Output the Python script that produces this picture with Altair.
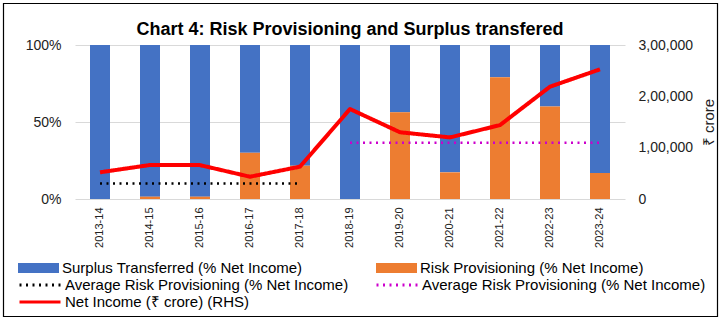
import altair as alt
import pandas as pd

years = ["2013-14", "2014-15", "2015-16", "2016-17", "2017-18", "2018-19",
         "2019-20", "2020-21", "2021-22", "2022-23", "2023-24"]
surplus_pct = [100, 98.5, 98.5, 70.0, 78.4, 100, 43.7, 82.7, 20.9, 40.0, 83.1]
risk_pct = [0, 1.5, 1.5, 30.0, 21.6, 0, 56.3, 17.3, 79.1, 60.0, 16.9]
net_income = [52000, 66200, 66000, 43400, 63000, 175300, 130000, 120000, 144000, 218800, 252600]
avg_early_years = years[:5]
avg_early = [10.0] * 5
avg_late_years = years[5:]
avg_late = [36.5] * 6

S_SUR = "Surplus Transferred (% Net Income)"
S_RISK = "Risk Provisioning (% Net Income)"
K_AVG1 = "Average Risk Provisioning (% Net Income)"
K_AVG2 = "Average Risk Provisioning (% Net Income) "
K_NET = "Net Income (₹ crore) (RHS)"
# legend is filled column by column: [avg1, net] in column 1, [avg2] in column 2
line_keys = [K_AVG1, K_NET, K_AVG2]
line_colors = ["#000000", "#FF0000", "#CC00CC"]
line_dashes = [[2, 4.5], [1, 0], [2, 4.5]]

bars_df = pd.DataFrame(
    [{"year": y, "series": S_SUR, "value": v, "ord": 1} for y, v in zip(years, surplus_pct)]
    + [{"year": y, "series": S_RISK, "value": v, "ord": 0} for y, v in zip(years, risk_pct)]
)
avg_df = pd.DataFrame(
    [{"year": y, "key": K_AVG1, "value": v} for y, v in zip(avg_early_years, avg_early)]
    + [{"year": y, "key": K_AVG2, "value": v} for y, v in zip(avg_late_years, avg_late)]
)
net_df = pd.DataFrame({"year": years, "net": net_income, "key": [K_NET] * len(years)})

FONT = "Liberation Sans"
TXT = "#222222"
PL, PT = 75, 45  # plot origin

x_enc = alt.X("year:N", sort=years,
              scale=alt.Scale(paddingInner=0, paddingOuter=0),
              axis=alt.Axis(title=None, labelAngle=-90, labelFontSize=11, labelColor=TXT,
                            domain=False, ticks=False, tickSize=0, labelPadding=8,
                            labelFont=FONT))

left_axis = alt.Axis(title=None, values=[0, 50, 100], labelExpr="datum.value + '%'",
                     grid=True, gridColor="#D9D9D9", gridWidth=1, domain=False, ticks=False,
                     tickSize=0, labelPadding=14, labelFontSize=14, labelColor=TXT,
                     labelFont=FONT)
left_scale = alt.Scale(domain=[0, 100], nice=False)

fill_legend = alt.Legend(orient="none", legendX=18 - PL, legendY=260 - PT, columns=2,
                         direction="horizontal", clipHeight=16,
                         title=None, symbolType="M-1,-0.24H1V0.24H-1Z", symbolSize=1681,
                         symbolStrokeWidth=0, labelFontSize=15, labelFont=FONT,
                         labelColor="#000000", labelLimit=500, labelOffset=3,
                         columnPadding=73, rowPadding=1, padding=0)

line_legend = alt.Legend(orient="none", legendX=18 - PL, legendY=277 - PT, columns=2,
                         direction="vertical", clipHeight=16,
                         title=None, symbolType="stroke", symbolSize=1681,
                         symbolStrokeWidth=3, labelFontSize=15, labelFont=FONT,
                         labelColor="#000000", labelLimit=500, labelOffset=3,
                         columnPadding=26, rowPadding=1, padding=0)

stroke_enc = alt.Stroke("key:N", scale=alt.Scale(domain=line_keys, range=line_colors),
                        legend=line_legend)
dash_enc = alt.StrokeDash("key:N", scale=alt.Scale(domain=line_keys, range=line_dashes),
                          legend=line_legend)

bars = alt.Chart(bars_df).mark_bar(size=20).encode(
    x=x_enc,
    y=alt.Y("value:Q", stack="zero", scale=left_scale, axis=left_axis),
    fill=alt.Fill("series:N", scale=alt.Scale(domain=[S_SUR, S_RISK],
                                              range=["#4472C4", "#ED7D31"]),
                  legend=fill_legend),
    order=alt.Order("ord:Q"),
)

avg_lines = alt.Chart(avg_df).mark_line(strokeWidth=2.5).encode(
    x=alt.X("year:N", sort=years),
    y=alt.Y("value:Q", scale=left_scale, axis=left_axis),
    stroke=stroke_enc,
    strokeDash=dash_enc,
)

border = alt.Chart(pd.DataFrame({"a": [0]})).mark_rect(
    fillOpacity=0, stroke="#000000", strokeWidth=1.2
).encode(
    x=alt.value(3.5 - PL), x2=alt.value(717.5 - PL),
    y=alt.value(3.5 - PT), y2=alt.value(316.5 - PT),
)

left = alt.layer(bars, avg_lines, border)

net_line = alt.Chart(net_df).mark_line(strokeWidth=4, strokeJoin="round").encode(
    x=alt.X("year:N", sort=years),
    y=alt.Y("net:Q", scale=alt.Scale(domain=[0, 300000], nice=False),
            axis=alt.Axis(orient="right", values=[0, 100000, 200000, 300000],
                          labelExpr="datum.value == 0 ? '0' : format(datum.value / 100000, 'd') + ',00,000'",
                          grid=False, domain=False, ticks=False, tickSize=0,
                          labelPadding=13, labelFontSize=14, labelColor=TXT, labelFont=FONT,
                          title="₹ crore", titleFontSize=15, titleFontWeight="normal",
                          titleColor=TXT, titleFont=FONT, titleAngle=270, titlePadding=24)),
    stroke=stroke_enc,
    strokeDash=dash_enc,
)

chart = alt.layer(left, net_line).resolve_scale(y="independent").properties(
    width=550, height=154,
    padding={"left": PL, "top": PT, "right": 722 - 625, "bottom": 323 - 199},
    autosize=alt.AutoSizeParams(type="none"),
    title=alt.Title("Chart 4: Risk Provisioning and Surplus transfered", fontSize=18,
                    fontWeight="bold", font=FONT, color="#000000", anchor="middle",
                    baseline="alphabetic", offset=0, dy=50.5),
    background="#FFFFFF",
).configure_view(stroke=None)

chart.save("out.html", embed_options={"renderer": "svg", "actions": False})
